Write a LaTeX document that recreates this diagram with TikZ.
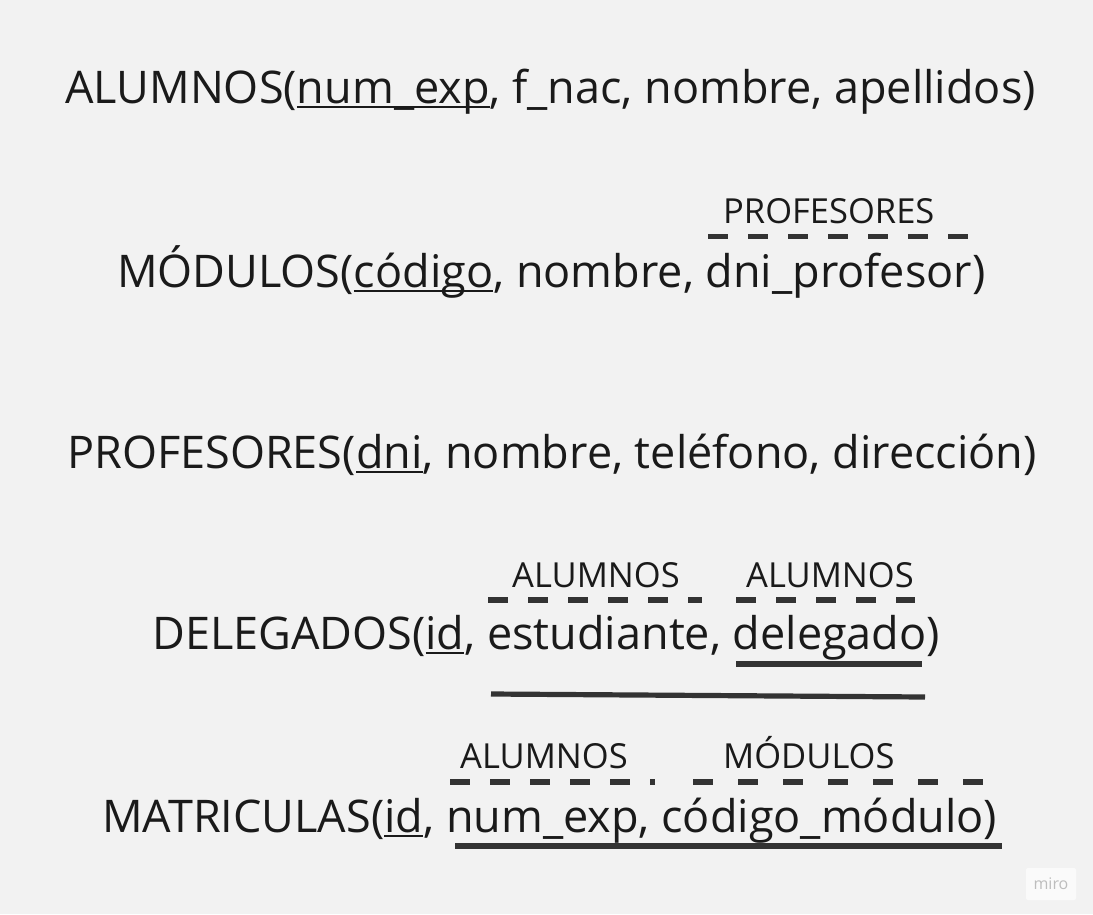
\documentclass[tikz,border=0pt]{standalone}
\usepackage{fontspec}
\setmainfont{Open Sans}
\usepackage{tikz}

\definecolor{fondo}{HTML}{F2F2F2}
\definecolor{tinta}{HTML}{1A1A1A}
\definecolor{trazo}{HTML}{333333}
\definecolor{logo}{HTML}{BDBDBD}

% thin underline for the primary keys
\newcommand{\clave}[1]{\sbox0{#1}\rlap{\rule[-5pt]{\wd0}{2.2pt}}\usebox0}

\begin{document}
\begin{tikzpicture}[x=1pt, y=-1pt,
	fila/.style={anchor=base west, inner sep=0pt, text=tinta, font=\fontsize{45}{54}\selectfont},
	etiqueta/.style={anchor=base west, inner sep=0pt, text=tinta, font=\fontsize{34.5}{40}\selectfont},
	ajena/.style={draw=trazo, line width=5.5pt, dash pattern=on 20pt off 20pt},
	compuesta/.style={draw=trazo, line width=5.2pt}]
	% Drawing the background
	\useasboundingbox[fill=fondo] (0,0) rectangle (1093,914);

	% Drawing the relations
	\node[fila] (alumnos) at (65,103) {ALUMNOS(\clave{num\_exp}, f\_nac, nombre, apellidos)};
	\node[fila] (modulos) at (117,287) {MÓDULOS(\clave{código}, nombre, dni\_profesor)};
	\node[fila] (profesores) at (67,468) {PROFESORES(\clave{dni}, nombre, teléfono, dirección)};
	\node[fila] (delegados) at (152,649) {DELEGADOS(\clave{id}, estudiante, delegado)};
	\node[fila] (matriculas) at (102,832) {MATRICULAS(\clave{id}, num\_exp, código\_módulo)};

	% Drawing the foreign key labels
	\node[etiqueta] (fkprof) at (723,223) {PROFESORES};
	\node[etiqueta] (fkest) at (512,587) {ALUMNOS};
	\node[etiqueta] (fkdel) at (746,587) {ALUMNOS};
	\node[etiqueta] (fkalum) at (460,768) {ALUMNOS};
	\node[etiqueta] (fkmod) at (723,768) {MÓDULOS};

	% Drawing the dashed strokes under the labels
	\draw[ajena] (708,236.5) -- (968,236.5);
	\draw[ajena] (488,600) -- (702,600);
	\draw[ajena] (736,600) -- (915,600);
	\draw[ajena] (450,782) -- (655,782);
	\draw[ajena, dash pattern=on 20pt off 25pt] (693,782) -- (983,782);

	% Drawing the solid strokes
	\draw[compuesta] (736,664) -- (922,664);
	\draw[compuesta] (491,694) -- (925,697);
	\draw[compuesta] (455,846) -- (1002,846);

	% Drawing the watermark
	\node[fill=white!60!fondo, rounded corners=2pt, text=logo, minimum width=50pt, minimum height=32pt,
		font=\fontsize{16}{18}\selectfont] (marca) at (1051,884) {miro};
\end{tikzpicture}
\end{document}
